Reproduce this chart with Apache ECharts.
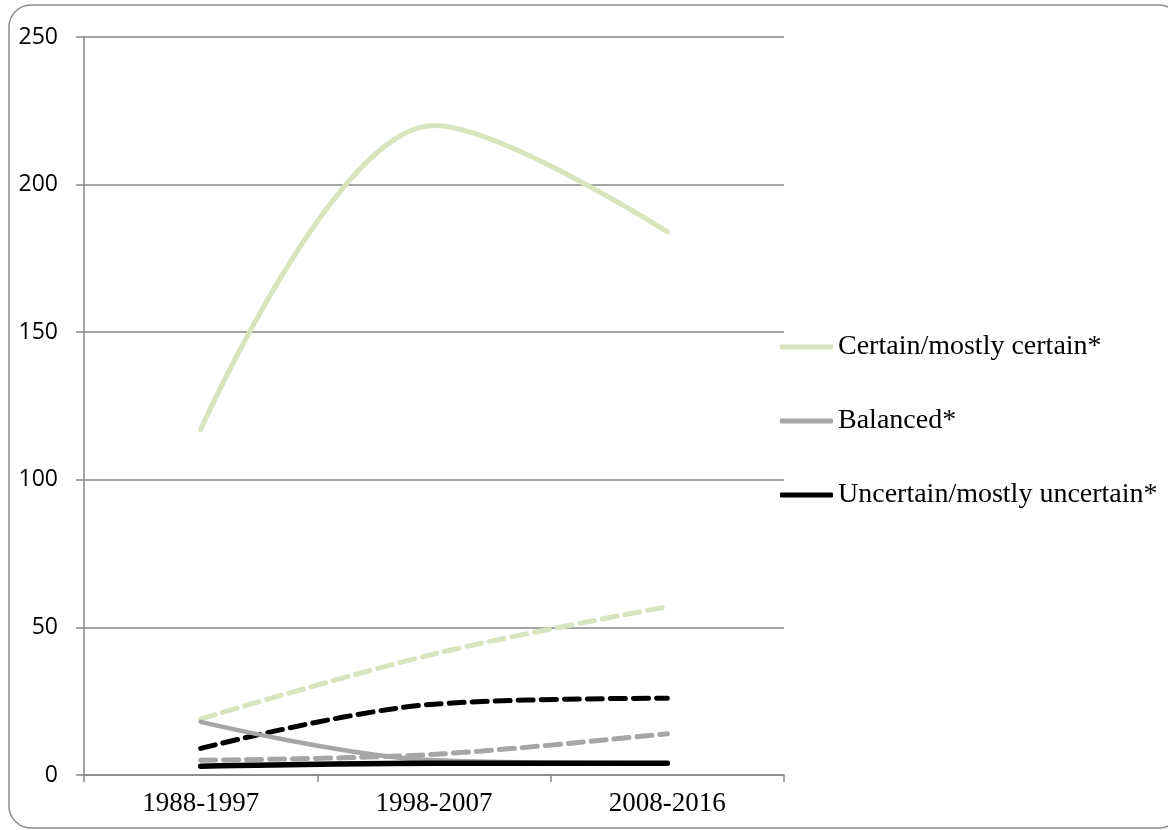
<!DOCTYPE html>
<html>
<head>
<meta charset="utf-8">
<script src="https://cdn.jsdelivr.net/npm/echarts@6/dist/echarts.min.js"></script>
<style>
  html, body { margin: 0; padding: 0; background: #ffffff; }
  #chart { width: 1168px; height: 830px; }
</style>
</head>
<body>
<div id="chart"></div>
<script>
// Periods on the category axis
const periods = ['1988-1997', '1998-2007', '2008-2016'];

// Solid lines (shown in legend)
const certainSolid = [117, 220, 184];
const balancedSolid = [18, 5, 4];
const uncertainSolid = [3, 4, 4];

// Dashed companion lines
const certainDashed = [19, 41, 57];
const balancedDashed = [5, 7, 14];
const uncertainDashed = [9, 24, 26];

// Value axis ticks
const yTicks = { min: 0, max: 250, interval: 50 };

const legendNames = ['Certain/mostly certain*', 'Balanced*', 'Uncertain/mostly uncertain*'];

const green = '#d7e4bd';
const grey = '#a6a6a6';
const black = '#000000';

function line(name, data, color, width, dashed) {
  return {
    name: name,
    type: 'line',
    data: data,
    smooth: 0.35,
    symbol: 'none',
    lineStyle: {
      color: color,
      width: width,
      type: dashed ? [15, 8] : 'solid',
      cap: 'round'
    },
    itemStyle: { color: color },
    z: dashed ? 2 : 3
  };
}

const chart = echarts.init(document.getElementById('chart'));
chart.setOption({
  animation: false,
  backgroundColor: '#ffffff',
  graphic: [{
    type: 'rect',
    shape: { x: 9, y: 5, width: 1172, height: 823, r: 22 },
    style: { fill: 'none', stroke: '#8c8c8c', lineWidth: 1.5 },
    z: 0
  }],
  grid: { left: 84, right: 384, top: 37, bottom: 55 },
  legend: {
    data: legendNames,
    orient: 'vertical',
    left: 775,
    top: 328,
    padding: 5,
    itemWidth: 53,
    itemHeight: 5,
    itemGap: 46,
    icon: 'roundRect',
    textStyle: { fontFamily: 'Liberation Serif', fontSize: 28, color: '#000' }
  },
  xAxis: {
    type: 'category',
    data: periods,
    boundaryGap: true,
    axisLine: { lineStyle: { color: '#868686', width: 1.5 } },
    axisTick: { show: true, length: 7, lineStyle: { color: '#868686', width: 1.5 } },
    axisLabel: { fontFamily: 'Liberation Serif', fontSize: 27, color: '#000', margin: 15 }
  },
  yAxis: {
    type: 'value',
    min: yTicks.min,
    max: yTicks.max,
    interval: yTicks.interval,
    axisLine: { show: true, lineStyle: { color: '#868686', width: 1.5 } },
    axisTick: { show: true, length: 8, lineStyle: { color: '#868686', width: 1.5 } },
    splitLine: { lineStyle: { color: '#868686', width: 1.5 } },
    axisLabel: { fontFamily: 'Open Sans', fontSize: 23, color: '#000', margin: 26 }
  },
  series: [
    line('Certain/mostly certain (trend)', certainDashed, green, 5, true),
    line('Balanced (trend)', balancedDashed, grey, 5, true),
    line('Uncertain/mostly uncertain (trend)', uncertainDashed, black, 5, true),
    line('Certain/mostly certain*', certainSolid, green, 5, false),
    line('Balanced*', balancedSolid, grey, 4.5, false),
    line('Uncertain/mostly uncertain*', uncertainSolid, black, 5.5, false)
  ]
});
</script>
</body>
</html>
